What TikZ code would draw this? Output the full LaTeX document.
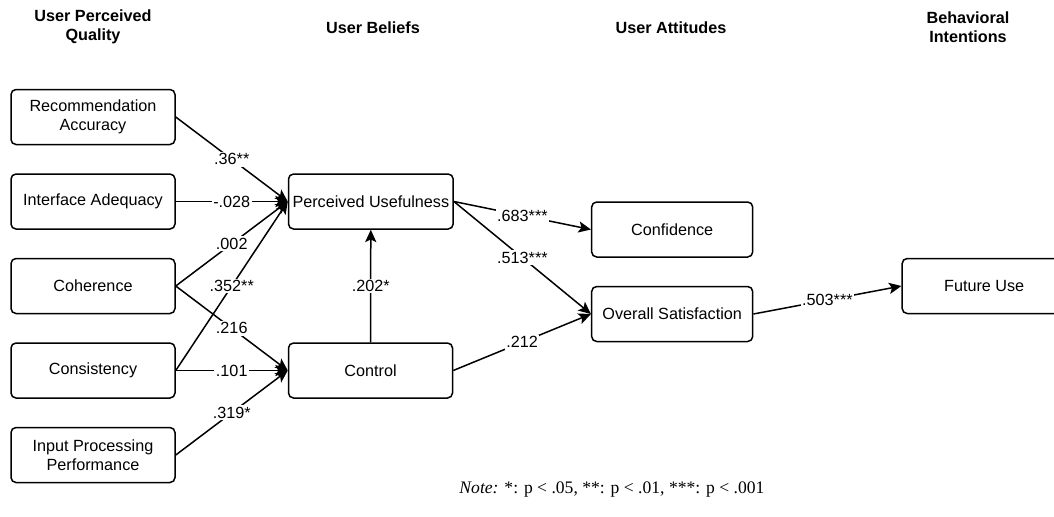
\documentclass[tikz,border=0pt]{standalone}
\usepackage{fontspec}
\setmainfont{Liberation Sans}
\newfontfamily\notefont{Liberation Serif}
\usepackage{xcolor}
\usepackage{tikz}
\usetikzlibrary{arrows.meta,positioning}
\tikzset{
  box/.style={rounded corners=2.5pt,draw=black,line width=0.75pt,fill=white,minimum width=82pt,minimum height=27.5pt,inner sep=2pt,align=center,font=\fontsize{8.1}{9.5}\selectfont},
  head/.style={align=center,font=\fontsize{8.1}{9.5}\selectfont\bfseries},
  coef/.style={fill=white,inner sep=0.8pt,font=\fontsize{8.1}{9.5}\selectfont},
  arr/.style={-{Stealth[length=6.2pt,width=5.6pt,inset=1.4pt]},line width=0.75pt,draw=black},
}
\begin{document}
\begin{tikzpicture}[x=0.5pt,y=-0.5pt,node distance=14pt and 56pt]
  \useasboundingbox (0,0) rectangle (1054,516);

  \node[head] (hquality) at (93,27) {User Perceived\\Quality};
  \node[head] (hbeliefs) at (373,28) {User Beliefs};
  \node[head] (hattitudes) at (671,28) {User Attitudes};
  \node[head] (hintentions) at (968,27) {Behavioral\\Intentions};

  \node[box] (acc) at (93,117) {Recommendation\\Accuracy};
  \node[box,below=of acc] (iface) {Interface Adequacy};
  \node[box,below=of iface] (coher) {Coherence};
  \node[box,below=of coher] (consist) {Consistency};
  \node[box,below=of consist] (inproc) {Input Processing\\Performance};

  \node[box,right=of iface] (useful) {Perceived Usefulness};
  \node[box,right=of consist] (control) {Control};
  \node[box,minimum width=80.5pt,right=68.5pt of useful,yshift=-14pt] (conf) {Confidence};
  \node[box,minimum width=80.5pt,below=14pt of conf] (satis) {Overall Satisfaction};
  \node[box,right=74pt of satis,yshift=14pt] (future) {Future Use};

  \draw[arr] (acc.east) -- node[coef] {.36**} (useful.west);
  \draw[arr] (iface.east) -- node[coef] {-.028} (useful.west);
  \draw[arr] (coher.east) -- node[coef] {.002} (useful.west);
  \draw[arr] (consist.east) -- node[coef] {.352**} (useful.west);
  \draw[arr] (coher.east) -- node[coef] {.216} (control.west);
  \draw[arr] (consist.east) -- node[coef] {.101} (control.west);
  \draw[arr] (inproc.east) -- node[coef] {.319*} (control.west);

  \draw[arr] (control) -- node[coef] {.202*} (useful);
  \draw[arr] (useful.east) -- node[coef] {.683***} (conf.west);
  \draw[arr] (useful.east) -- node[coef] {.513***} (satis.west);
  \draw[arr] (control.east) -- node[coef] {.212} (satis.west);
  \draw[arr] (satis.east) -- node[coef] {.503***} (future.west);

  \node[font=\notefont\fontsize{8.8}{10}\selectfont] (note) at (612,490) {\textit{Note:} *: p < .05, **: p < .01, ***: p < .001};
\end{tikzpicture}
\end{document}
